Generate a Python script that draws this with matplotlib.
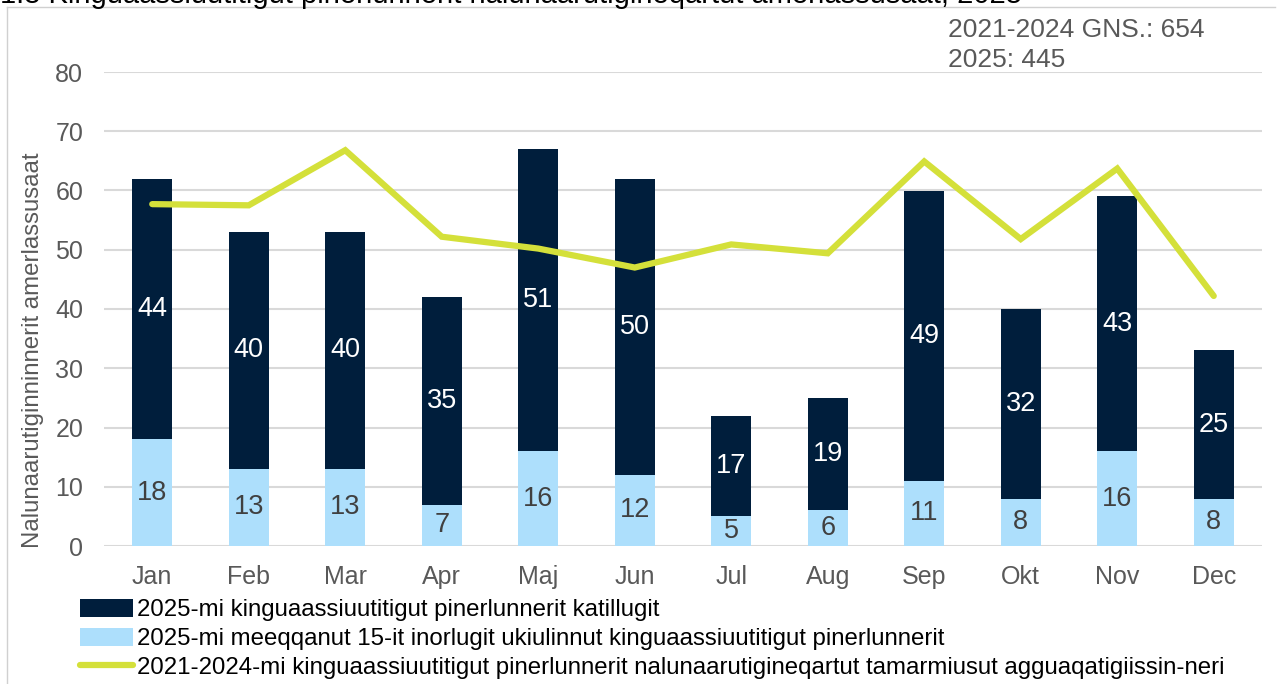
import numpy as np
import matplotlib
matplotlib.use("Agg")
import matplotlib.pyplot as plt
from matplotlib.patches import Patch
from matplotlib.lines import Line2D

plt.rcParams['font.family'] = ['Liberation Sans', 'DejaVu Sans']

# data
months = ['Jan', 'Feb', 'Mar', 'Apr', 'Maj', 'Jun', 'Jul', 'Aug', 'Sep', 'Okt', 'Nov', 'Dec']
under15 = [18, 13, 13, 7, 16, 12, 5, 6, 11, 8, 16, 8]
total_rest = [44, 40, 40, 35, 51, 50, 17, 19, 49, 32, 43, 25]
avg_2021_2024 = [57.7, 57.5, 66.8, 52.2, 50.2, 47.0, 50.9, 49.4, 64.9, 51.8, 63.7, 42.2]

lbl_total = '2025-mi kinguaassiuutitigut pinerlunnerit katillugit'
lbl_under15 = '2025-mi meeqqanut 15-it inorlugit ukiulinnut kinguaassiuutitigut pinerlunnerit'
lbl_avg = '2021-2024-mi kinguaassiuutitigut pinerlunnerit nalunaarutigineqartut tamarmiusut agguaqatigiissin-neri'
title = '1.3 Kinguaassiuutitigut pinerlunnerit nalunaarutigineqartut amerlassusaat, 2025'

navy = '#001E3C'
light = '#ADDFFC'
lime = '#D4E03A'
grey = '#595959'

W, H = 1282, 684
fig = plt.figure(figsize=(W / 100, H / 100), dpi=100)
ax = fig.add_axes([104 / W, 1 - 546 / H, (1262 - 104) / W, (546 - 72) / H])

x = np.arange(len(months))
bw = 0.415
ax.bar(x, under15, bw, color=light, zorder=2)
ax.bar(x, total_rest, bw, bottom=under15, color=navy, zorder=2)
ax.plot(x, avg_2021_2024, color=lime, lw=4.5, solid_capstyle='round', solid_joinstyle='miter', zorder=3)

for i in range(len(months)):
    ax.text(x[i], under15[i] / 2, str(under15[i]), ha='center', va='center',
            fontsize=19.5, color='#404040', zorder=4)
    ax.text(x[i], under15[i] + total_rest[i] / 2, str(total_rest[i]), ha='center', va='center',
            fontsize=19.5, color='white', zorder=4)

ax.set_xlim(-0.5, len(months) - 0.5)
ax.set_ylim(0, 80)
ax.set_yticks(range(0, 81, 10))
ax.set_xticks(x)
ax.set_xticklabels(months)
ax.tick_params(axis='both', length=0, labelsize=18, colors=grey)
ax.tick_params(axis='y', pad=15)
ax.tick_params(axis='x', pad=14)
ax.grid(axis='y', color='#D9D9D9', lw=1.5, zorder=0)
for s in ax.spines.values():
    s.set_visible(False)

fig.text(33 / W, 1 - 350 / H, 'Nalunaarutiginninnerit amerlassusaat', rotation=90,
         ha='center', va='center', fontsize=17.3, color=grey)

fig.text(948 / W, 1 - 30 / H, '2021-2024 GNS.: 654', ha='left', va='center', fontsize=19, color=grey)
fig.text(948 / W, 1 - 60 / H, '2025: 445', ha='left', va='center', fontsize=19, color=grey)

# title, cut at the top like in the source
fig.text(0 / W, 1 - 3 / H, title, ha='left', va='baseline', fontsize=21, color='black')

# frame (left and top only visible)
fig.add_artist(Line2D([7 / W, 7 / W], [0, 1 - 7 / H], transform=fig.transFigure, color='#D0D0D0', lw=1))
fig.add_artist(Line2D([7 / W, 1275 / W], [1 - 7 / H, 1 - 7 / H], transform=fig.transFigure, color='#D0D0D0', lw=1))

handles = [Patch(facecolor=navy), Patch(facecolor=light),
           Line2D([], [], color=lime, lw=4.5, solid_capstyle='round')]
fig.legend(handles, [lbl_total, lbl_under15, lbl_avg], loc='upper left',
           bbox_to_anchor=(80 / W, 1 - 599 / H), frameon=False, fontsize=17.3,
           handlelength=2.2, handleheight=0.75, handletextpad=0.16, labelspacing=0.28,
           borderaxespad=0, borderpad=0)

fig.savefig('out.png', dpi=100)
